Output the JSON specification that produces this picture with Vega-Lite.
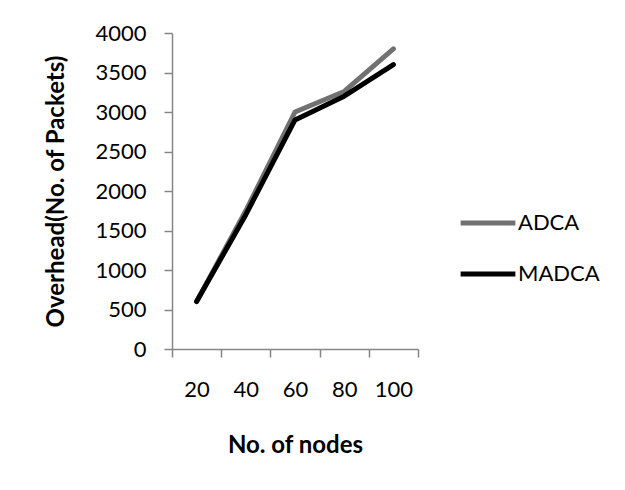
{
  "$schema": "https://vega.github.io/schema/vega-lite/v6.json",
  "width": 246,
  "height": 316,
  "autosize": {"type": "none"},
  "padding": {"left": 172, "top": 33, "right": 207, "bottom": 141},
  "background": "white",
  "config": {
    "font": "Lato",
    "view": {"stroke": null},
    "axis": {"domainColor": "#868686", "tickColor": "#868686", "domainWidth": 1.5, "tickWidth": 1.5, "grid": false, "labelFont": "Lato", "labelFontSize": 22, "labelColor": "#000000", "titleFont": "Lato", "titleFontSize": 24, "titleFontWeight": "bold", "titleColor": "#000000"}
  },
  "data": {
    "values": [
      {"nodes": "20", "series": "ADCA", "overhead": 600},
      {"nodes": "40", "series": "ADCA", "overhead": 1750},
      {"nodes": "60", "series": "ADCA", "overhead": 3000},
      {"nodes": "80", "series": "ADCA", "overhead": 3260},
      {"nodes": "100", "series": "ADCA", "overhead": 3800},
      {"nodes": "20", "series": "MADCA", "overhead": 600},
      {"nodes": "40", "series": "MADCA", "overhead": 1700},
      {"nodes": "60", "series": "MADCA", "overhead": 2900},
      {"nodes": "80", "series": "MADCA", "overhead": 3200},
      {"nodes": "100", "series": "MADCA", "overhead": 3600}
    ]
  },
  "mark": {"type": "line", "strokeWidth": 5, "strokeCap": "round", "strokeJoin": "round"},
  "encoding": {
    "x": {
      "field": "nodes",
      "type": "ordinal",
      "sort": ["20", "40", "60", "80", "100"],
      "bandPosition": 0.5,
      "scale": {"type": "band", "paddingInner": 0, "paddingOuter": 0},
      "axis": {"title": "No. of nodes", "labelAngle": 0, "tickBand": "extent", "tickSize": 8, "labelPadding": 22, "titlePadding": 33}
    },
    "y": {
      "field": "overhead",
      "type": "quantitative",
      "scale": {"domain": [0, 4000]},
      "axis": {"title": "Overhead(No. of Packets)", "format": "d", "values": [0, 500, 1000, 1500, 2000, 2500, 3000, 3500, 4000], "tickSize": 8, "labelPadding": 18, "titlePadding": 26}
    },
    "color": {
      "field": "series",
      "type": "nominal",
      "scale": {"domain": ["ADCA", "MADCA"], "range": ["#717171", "#000000"]},
      "legend": {"title": null, "orient": "none", "legendX": 286, "legendY": 160, "symbolType": "stroke", "symbolSize": 3000, "symbolStrokeWidth": 5, "labelFontSize": 22, "labelFont": "Lato", "labelColor": "#000000", "labelOffset": 0, "rowPadding": 10, "padding": 0}
    }
  }
}
